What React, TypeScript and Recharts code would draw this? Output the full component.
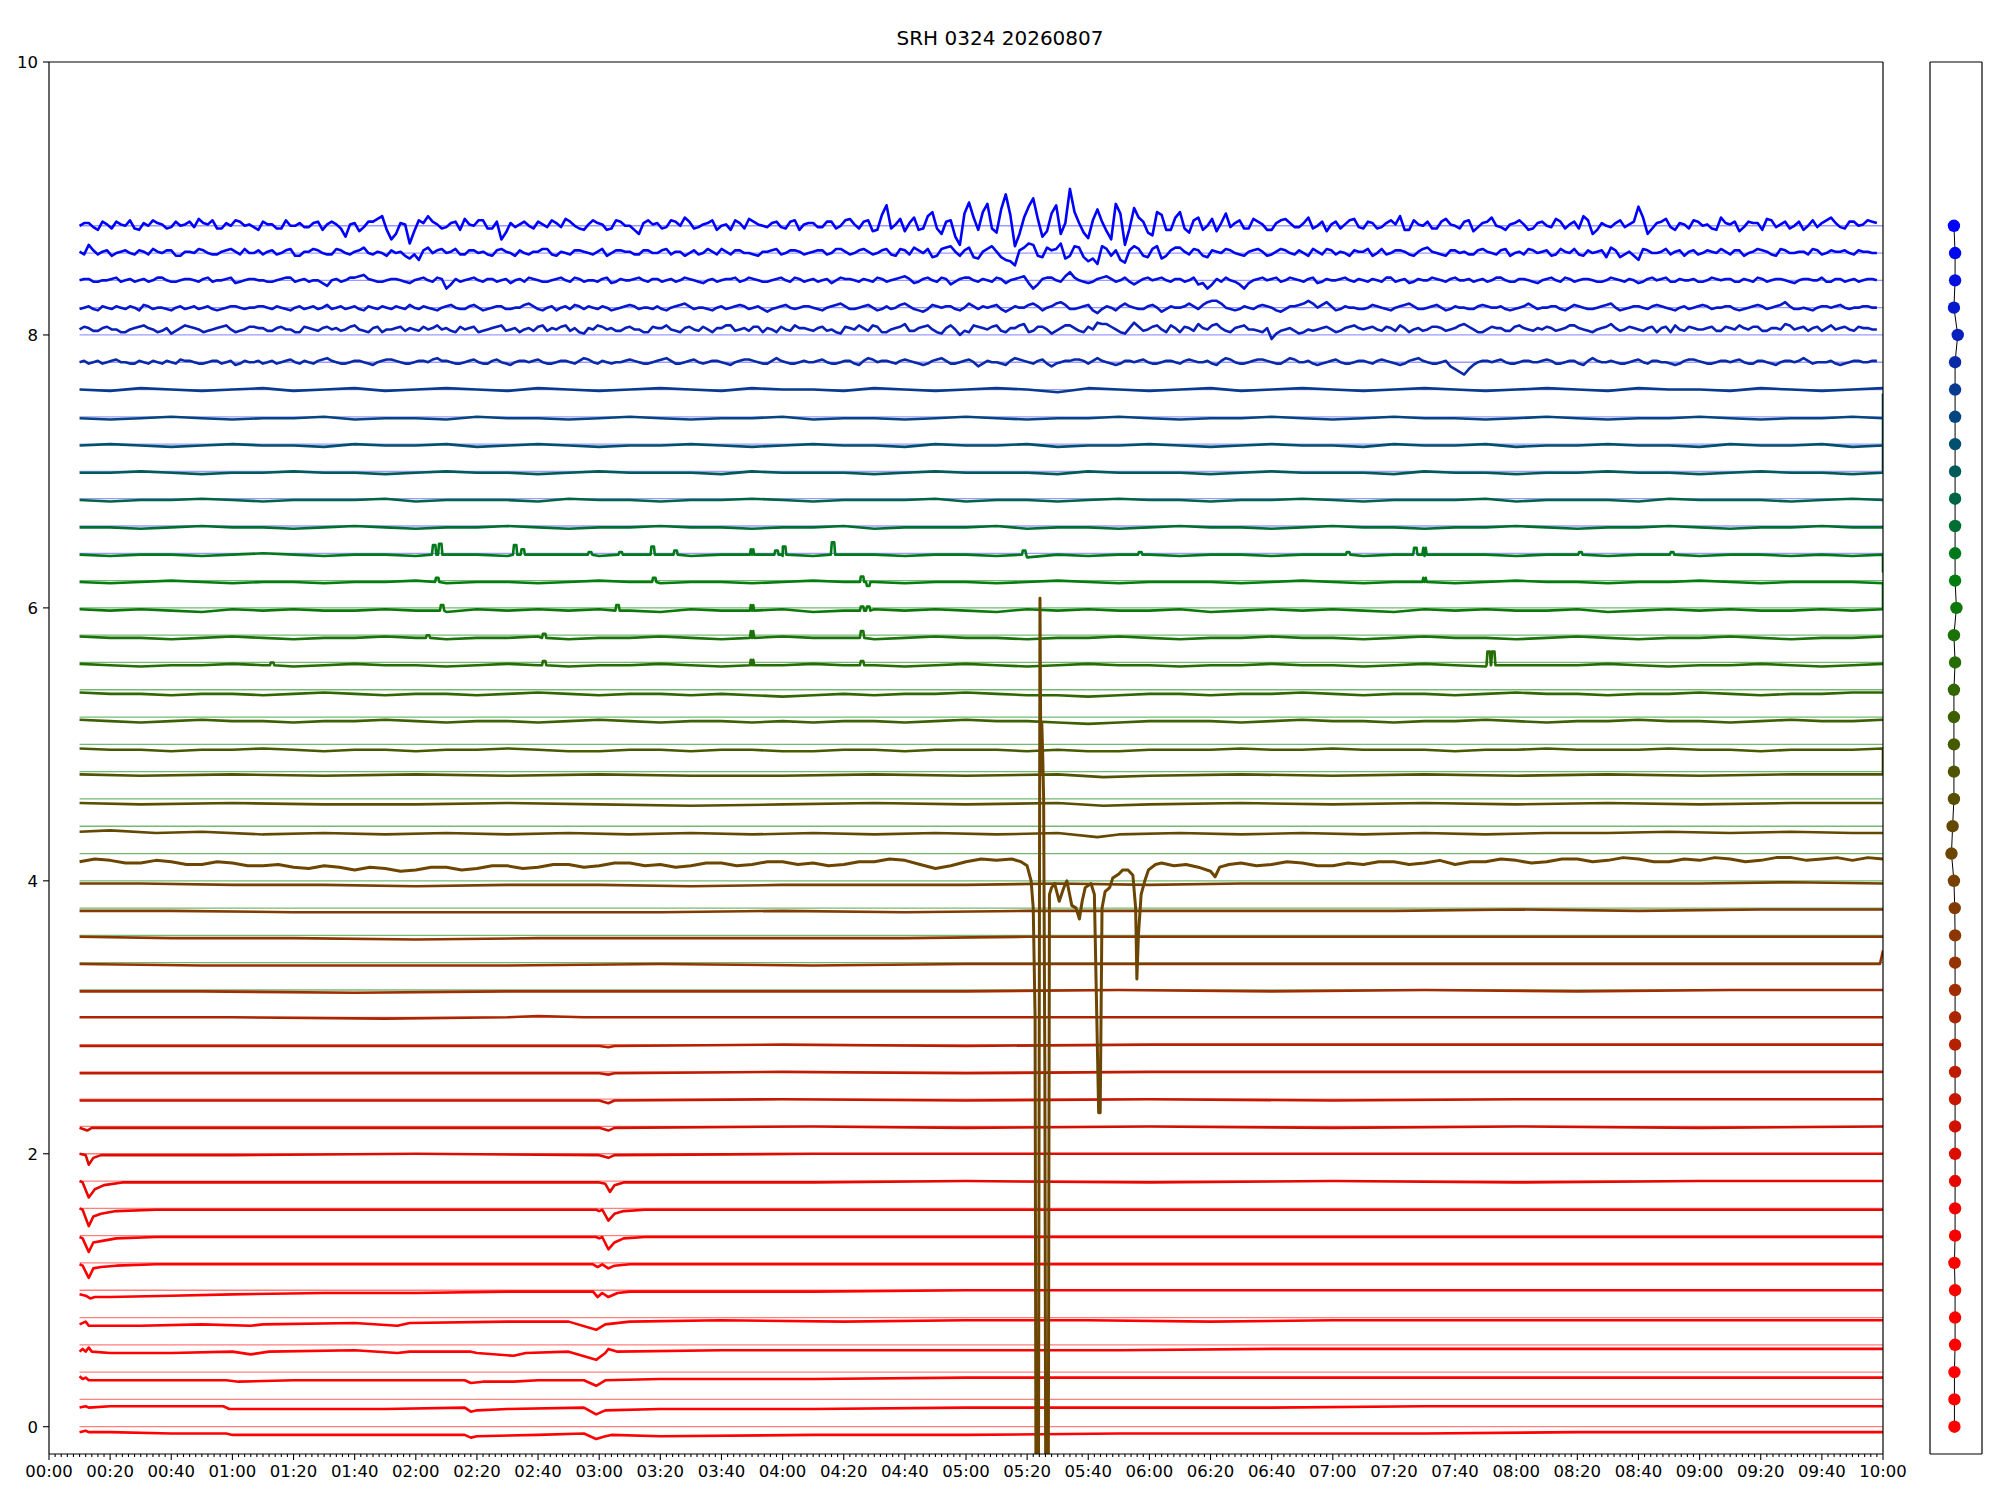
import React from 'react'
import {Line, LineChart, ReferenceLine, XAxis, YAxis} from 'recharts'

const FONT = '"DejaVu Sans", sans-serif'

// channel levels, top to bottom
const levels = [8.8, 8.6, 8.4, 8.2, 8.0, 7.8, 7.6, 7.4, 7.2, 7.0, 6.8, 6.6, 6.4, 6.2, 6.0, 5.8, 5.6, 5.4, 5.2, 5.0,
    4.8, 4.6, 4.4, 4.2, 4.0, 3.8, 3.6, 3.4, 3.2, 3.0, 2.8, 2.6, 2.4, 2.2, 2.0, 1.8, 1.6, 1.4, 1.2, 1.0, 0.8, 0.6, 0.4, 0.2, 0.0]

const colors = ['#0000ff', '#0008f0', '#0410e0', '#0818cc', '#0a20bb', '#0a2aa8', '#083a90', '#054580', '#025070', '#005a5a',
    '#006445', '#006e30', '#00781c', '#057c10', '#0c780a', '#1a7208', '#266c04', '#326600', '#3c6000', '#465a00',
    '#505400', '#5a4e00', '#634900', '#6c4600', '#784000', '#823a00', '#8c3600', '#963200', '#a02c00', '#aa2600',
    '#b42000', '#be1c00', '#c81600', '#d21000', '#dc0c00', '#e60800', '#f00400', '#f80200', '#ff0000', '#ff0000',
    '#ff0000', '#ff0000', '#ff0000', '#ff0000', '#ff0000']

// x offsets of the dots in the side panel
const dotOffsets = [-0.15, -0.08, -0.08, -0.15, 0.08, -0.08, -0.08, -0.08, -0.08, -0.08, -0.08, -0.08, -0.08, -0.08, 0.0,
    -0.15, -0.08, -0.15, -0.15, -0.15, -0.15, -0.15, -0.23, -0.3, -0.15, -0.1, -0.08, -0.08, -0.08, -0.08, -0.08, -0.08,
    -0.08, -0.08, -0.08, -0.08, -0.08, -0.08, -0.12, -0.08, -0.08, -0.08, -0.12, -0.12, -0.12]

// minutes since 00:00; fine grid every 3 min (plus a half-step grid), coarse grid every 10 min
const fineTimes = Array.from({length: 197}, (_, i) => 10 + 3 * i)
const halfTimes = Array.from({length: 196}, (_, i) => 11.5 + 3 * i)
const coarseTimes = Array.from({length: 60}, (_, i) => 10 + 10 * i)
const xTicks = Array.from({length: 301}, (_, i) => i * 2)

// deviations from channel level, in 0.01 units (fine grid)
const ch88 = [0, 2, -3, 1, 3, 0, -2, 2, 4, 1, -1, 0, 3, 5, 1, -2, 2, 4, 0, -1,
    3, 1, -2, 0, 2, -1, 3, 1, 1, -8, 2, -1, 3, 7, -10, 2, -13, 4, 7, 1,
    -1, 3, 5, 0, 4, -2, -10, 2, 1, 0, 3, -1, 2, 5, 0, -3, 4, 1, -2, 3,
    0, -6, 4, 2, -1, 3, 6, -2, 1, 4, 0, -3, 2, 5, 1, -1, 3, -2, 4, 1,
    2, -1, 3, 0, 5, -2, 4, -3, 15, 1, -4, 6, -2, 10, -6, 4, -14, 17, -3, 16,
    -5, 23, -15, 6, 20, -8, 9, -6, 27, 2, -9, 12, -4, 16, -14, 13, 3, -7, 8, -3,
    10, -5, 6, 0, -4, 9, 2, -2, 5, 1, -3, 4, 2, -1, 6, 0, -4, 3, 1, 5,
    -2, 2, -1, 4, 7, -3, 1, 3, -2, 5, 0, 3, -4, 2, 6, -1, 1, 4, -3, 2,
    0, 5, -2, 3, 7, -6, 2, -1, 4, 1, 14, -6, 2, 5, -3, 1, 4, 0, -2, 6,
    1, -4, 3, 2, 5, -1, 3, 0, -3, 4, 2, 6, -1, 3, 0, 4, 2]
const ch88b = [2, -1, 3, -2, 1, 4, -3, 0, 2, -2, 3, 1, -1, 2, 4, -2, 0, 3, 1, -3,
    1, -2, 4, 0, -1, 2, -3, 3, -2, 1, -4, 3, 5, -3, -6, 1, -4, 2, 3, -2,
    2, -3, 1, 4, -2, 3, -5, -1, 3, -2, 1, 4, -1, 3, -2, 1, 2, -3, 4, 0,
    -3, 2, 1, -2, 4, 0, 3, -1, 2, -3, 1, 4, -2, 3, 0, 2, -1, 3, -3, 2,
    -1, 3, -2, 4, 1, 3, -4, 8, -2, 5, 2, -3, 7, -2, 3, -8, 9, 6, 10, -2,
    12, 8, -6, 14, 5, -4, 15, 2, 10, -5, 4, 3, -10, 9, -2, 6, -5, 10, -3, 6,
    -2, 4, -3, 5, 2, -1, 4, -2, 3, -3, 2, 5, -1, 2, -2, 3, 1, -2, 4, -1,
    3, -2, 2, 1, -3, 4, 0, -2, 3, 1, -2, 4, -1, 3, 0, -3, 2, 1, -2, 3,
    -1, 3, 1, -2, 4, -3, 0, 2, -1, 3, 6, -2, 3, -1, 2, -2, 3, 1, -3, 2,
    3, -1, 2, -3, 4, 1, -2, 3, 0, -1, 4, 2, -2, 3, 1, 3]
const ch86 = [1, 6, -1, 2, 0, 2, -1, 1, 3, 0, 2, -2, 1, 3, 0, -1, 2, 1, 3, 0,
    -1, 2, 0, 3, -2, 1, 2, -1, 3, 0, 1, 4, -1, 0, 2, 1, -4, -5, 4, 2,
    0, 3, -1, 2, 1, -2, 3, 0, 2, -1, 1, 3, -2, 0, 2, 1, -1, 3, 0, 2,
    1, -1, 2, 0, 3, 1, -2, 2, 0, 1, 3, -1, 2, 0, -2, 1, 3, 0, 2, -1,
    1, 2, 0, 3, -1, 2, 1, 0, 3, -2, 2, 4, 0, -3, 3, 5, -2, 4, -4, 3,
    1, -5, -9, 4, 6, -3, 2, 7, -2, 4, -6, -8, 3, 2, -7, 5, -2, 3, -4, 2,
    4, -1, 2, -3, 1, 3, 0, -2, 2, 1, -1, 3, 0, 2, -2, 1, 3, -1, 0, 2,
    1, -2, 3, 0, 2, -1, 1, 4, 0, -2, 2, 1, -1, 3, 0, 2, -2, 1, 3, 0,
    2, -1, 1, 3, -2, 0, 2, 4, -3, 1, -5, 2, 0, 3, 1, -2, 2, 0, 1, 3,
    -1, 2, 0, 3, 1, -2, 2, 0, 1, 3, -1, 2, 1, 0, 2, 1, 0]
const ch86b = [-1, 2, 1, -2, 1, 0, 2, -1, 1, 2, -2, 1, 0, 2, -1, 1, 3, -1, 0, 2,
    1, -1, 2, -2, 1, 3, 0, -1, 2, -1, 2, 0, 1, -2, 0, -2, -1, 2, 0, 3,
    1, -1, 2, 0, -1, 2, 1, -2, 0, 1, 3, -1, 1, -1, 2, 0, 1, -2, 2, 1,
    -1, 2, 0, 2, -1, 1, 0, -1, 3, -1, 1, 2, 0, -1, 1, 2, -1, 2, 1, 0,
    2, -1, 3, 1, 0, 3, -1, 2, -1, 3, -1, 2, 3, -2, 4, 1, 2, -3, 1, 5,
    -3, -6, 2, 7, -2, 4, 3, -4, 5, -3, -4, 5, -2, -5, 2, 3, -3, 5, -2, 4,
    1, 3, -2, 2, 0, 2, -1, 1, 3, -2, 1, 2, -1, 0, 3, -1, 2, 1, -2, 1,
    3, 0, -1, 2, 1, -2, 3, 1, -1, 2, 0, -1, 2, 1, -1, 3, 0, -1, 2, 1,
    -2, 3, 0, -1, 2, 1, -3, 2, -1, -2, 3, 0, 1, -1, 2, 1, -1, 2, 0, 1,
    2, -2, 1, 2, -1, 3, 0, 1, -1, 2, 0, 1, 2, -1, 1, 0]
const ch84 = [0, 1, -1, 0, 2, 0, -1, 1, 0, 2, -1, 0, 1, -1, 2, 0, 1, -2, 0, 1,
    0, -1, 1, 2, 0, -1, 0, -4, 1, 0, 2, 4, 0, -1, 1, 0, -2, 1, 0, 2,
    -6, 1, 0, 2, -1, 1, 0, -2, 1, 2, 0, -1, 1, 0, 2, -1, 0, 1, -2, 1,
    0, 2, -1, 1, 0, -1, 2, 0, -2, 1, 0, 1, -1, 2, 0, -1, 1, 0, 2, -1,
    1, 0, -2, 2, 1, -1, 0, 2, -1, 1, 3, -2, 1, 0, 2, -3, 1, 2, -1, 0,
    2, -2, 1, 3, -6, 1, 2, -1, 6, 0, -2, 1, 3, -1, 2, -3, 1, 0, 2, -1,
    1, 0, -3, -6, 1, 2, -1, -6, 0, 2, 1, -1, 2, 0, 1, -2, 1, 0, 2, -1,
    0, 1, -1, 2, 0, -2, 1, 0, 1, -1, 2, 0, -1, 1, 0, 2, -1, 1, 0, -2,
    1, 0, 2, -1, 1, 0, -1, 2, 0, 1, -2, 1, 0, 2, -1, 0, 1, -1, 2, 0,
    1, -1, 0, 2, -1, 1, 0, -2, 1, 0, 2, -1, 1, 0, -1, 1, 0]
const ch84b = [1, -1, 0, 1, -1, 1, 0, -1, 2, 0, -1, 1, 0, 1, -1, 0, 2, -1, 1, 0,
    -1, 0, 2, -1, 1, 0, -2, 0, -1, 2, 3, 1, -1, 0, 1, -1, 0, 2, -1, 1,
    -3, -1, 1, 0, 1, -1, 1, 0, -1, 1, -1, 0, 2, -1, 1, 0, -1, 2, -1, 0,
    1, 0, 1, -1, 1, 0, 1, -1, 0, -1, 1, 2, 0, 1, -1, 0, 2, -1, 1, 0,
    -1, 1, 0, 1, 0, 1, -1, 1, 0, 2, 1, -1, 2, -1, 1, -1, 2, 0, 1, -1,
    1, 0, 2, -2, -3, 2, 0, 3, 2, -1, -1, 2, 1, 0, -1, -1, 2, 1, 0, 1,
    -1, 2, -2, -3, -1, 0, -3, -2, 1, 0, 2, 0, 1, -1, 2, -1, 0, 1, 0, 1,
    -1, 0, 2, -1, 1, -1, 0, 2, 0, 1, 0, 1, 0, -1, 2, 0, -1, 1, -1, 0,
    2, -1, 1, 0, 1, -1, 0, 1, -1, 0, -1, 2, 1, -1, 1, 0, -1, 0, 1, 1,
    -1, 1, -1, 1, 0, 1, -1, 0, 1, 0, -1, 1, -1, 1, 0, 1]
const ch82 = [-1, 1, -2, 0, 1, -1, 0, 2, -1, 0, -2, 1, 0, -1, 1, -2, 0, 1, -1, 0,
    1, -1, 0, -2, 1, 0, -1, 2, 0, -1, 1, -2, 0, 1, -1, 0, 2, -1, 0, -2,
    1, 0, -1, 2, -2, 0, 1, -1, 0, 3, -1, 0, -2, 1, 2, -1, 0, 1, -2, 0,
    2, -1, 0, 1, -2, 1, 3, -1, 0, -2, 1, 0, 2, -1, 1, -3, 0, 2, -1, 1,
    0, -2, 1, 3, -1, 0, 2, -2, 1, 0, 3, -1, -3, 2, 0, 1, -2, 3, -1, 0,
    2, -3, 1, 0, 3, -2, 1, 4, -1, 0, 2, -4, 1, -2, 3, 0, -1, 2, -3, 1,
    0, 3, -1, 4, 5, 0, -2, 1, -1, 2, 0, -3, 1, 2, 5, 0, 4, -2, 1, 0,
    -1, 2, 0, -2, 1, 3, -1, 0, 2, -2, 1, 0, -1, 2, 0, 1, -2, 0, 3, -1,
    0, 1, -2, 2, 0, -1, 1, 3, -2, 0, 1, -1, 2, 0, -2, 1, 0, 2, -1, 0,
    1, -2, 0, 2, -1, 1, 4, -1, 0, -2, 1, 0, 2, -1, 0, 1, 0]
const ch82b = [0, -1, 1, -1, 0, 1, -2, 1, 0, -1, 0, -1, 1, 0, -1, -1, 1, 0, 0, 1,
    0, 1, -1, 0, -1, 1, 0, -1, 1, 0, -1, 1, -1, 0, 1, -1, 0, 1, -1, 0,
    2, -1, 1, 0, -1, 1, -1, 0, 2, 1, -2, 1, 0, -1, 1, 1, -1, 0, -1, 1,
    1, 0, -1, -1, 0, 2, 1, 0, -1, 0, -1, 1, 1, 0, -1, -1, 1, 0, 0, 1,
    -1, 0, 2, 1, -1, 1, 0, -1, -1, 2, 1, -2, -1, 1, 1, -1, 0, 1, 1, 1,
    -1, -1, 0, 2, 1, 0, 3, 2, -1, 1, -2, -1, 0, 1, 1, -1, 1, 0, -1, 0,
    1, 1, 2, 5, 3, -1, -1, 0, 1, 1, -2, -1, 1, 3, 3, 2, 1, -1, 0, -1,
    0, 1, -1, 0, 2, 1, -1, 1, 0, -1, 0, -1, 1, 1, 0, -1, -1, 1, 1, 0,
    1, -1, 0, 1, -1, 0, 2, 0, -1, 1, 0, 1, 1, -1, 0, -1, 1, 1, 0, 1,
    -1, -1, 1, 1, 0, 2, 1, -1, -1, 0, 1, 1, 0, 0, 1, 0]
const ch80 = [4, 5, 3, 6, 4, 2, 5, 7, 4, 3, 1, 5, 6, 4, 3, 5, 7, 2, 4, 6,
    5, 3, 6, 4, 2, 5, 3, 6, 5, 4, 7, 3, 5, 2, 4, 6, 5, 3, 4, 7,
    5, 2, 4, 6, 3, 5, 7, 4, 2, 5, 6, 3, 4, 7, 5, 1, 4, 6, 5, 3,
    6, 4, 2, 5, 7, 3, 5, 4, 6, 2, 5, 7, 4, 3, 6, 5, 2, 4, 7, 5,
    3, 6, 4, 1, 5, 7, 3, 6, 2, 5, 8, 3, 6, 4, 1, 7, 0, 2, 6, 4,
    7, 2, 5, 8, 3, 6, 1, 5, 7, 3, 6, 9, 8, 4, 1, 9, 3, 6, 4, 7,
    2, 5, 8, 4, 8, 3, 5, 7, 4, 2, -3, 3, 5, 1, 4, 4, 6, 2, 5, 7,
    4, 6, 3, 5, 7, 2, 5, 4, 6, 3, 5, 8, 4, 2, 6, 5, 3, 7, 4, 5,
    6, 3, 5, 7, 4, 2, 5, 8, 3, 6, 4, 5, 2, 6, 7, 3, 5, 4, 6, 3,
    5, 7, 4, 6, 3, 5, 8, 4, 6, 5, 3, 7, 5, 4, 6, 5, 4]
const ch80b = [6, 3, 5, 4, 2, 4, 6, 5, 2, 5, 3, 7, 5, 2, 4, 6, 4, 3, 6, 5,
    3, 5, 4, 2, 6, 4, 5, 4, 3, 6, 4, 2, 6, 4, 5, 3, 4, 6, 5, 4,
    3, 6, 5, 2, 4, 6, 3, 5, 4, 3, 7, 5, 6, 3, 2, 5, 7, 4, 3, 5,
    4, 2, 6, 5, 4, 2, 6, 3, 4, 5, 7, 3, 5, 6, 2, 4, 6, 3, 5, 4,
    5, 3, 2, 6, 4, 5, 7, 2, 4, 6, 3, 5, 7, 2, 5, 4, 3, 7, 5, 6,
    3, 5, 7, 2, 6, 4, 3, 7, 5, 2, 4, 8, 6, 2, 5, 6, 4, 7, 2, 5,
    6, 3, 5, 7, 5, 2, 6, 4, 3, 5, 1, 4, 3, 2, 3, 5, 4, 3, 6, 5,
    5, 4, 6, 3, 5, 4, 3, 6, 5, 4, 7, 6, 2, 4, 5, 3, 6, 5, 3, 4,
    5, 4, 7, 5, 3, 4, 6, 5, 4, 5, 3, 6, 5, 2, 4, 6, 4, 5, 3, 6,
    4, 5, 6, 3, 5, 4, 7, 5, 3, 6, 5, 4, 6, 3, 5, 4]
const ch78 = [0, -1, 1, 0, 2, 0, -1, 0, 1, -1, 0, 2, 1, -1, 0, 1, 0, -2, 1, 0,
    -1, 1, 0, 2, -1, 0, 1, 3, 0, -1, 1, 0, -2, 1, 2, 0, -1, 1, 0, 3,
    1, -1, 0, 2, -1, 1, 0, -2, 1, 0, 2, -1, 0, 1, -1, 3, 0, 1, -1, 0,
    2, 0, -1, 1, 3, -1, 0, 2, -1, 1, 0, -2, 1, 2, 0, -1, 3, 0, -1, 1,
    0, 2, -1, 0, 1, -2, 3, 0, 1, -1, 2, 0, -2, 1, 3, -1, 0, 2, -3, 1,
    0, -2, 3, 1, -1, 2, -3, 0, 1, 2, -1, 3, 0, -2, 1, 0, 2, -1, 0, 1,
    -1, 2, 0, 1, -2, 3, 0, -1, 1, 2, 0, -1, 3, 0, 1, -2, 0, 2, -1, 0,
    1, -1, 2, 0, -2, 1, 3, 0, -1, 1, -5, -9, -2, 1, 0, 2, -1, 0, 1, 0,
    2, -1, 0, 1, -2, 3, 0, 1, -1, 0, 2, -1, 1, 0, -2, 1, 2, 0, -1, 1,
    0, 2, -1, 1, 0, -2, 1, 0, 3, -1, 0, 1, -2, 0, 1, 0, 1]
const ch78b = [1, 0, -1, 1, 0, -1, 1, -1, 0, 1, -1, 1, 0, -1, 1, -1, 1, -1, 0, 1,
    0, -1, 1, 0, 1, -1, 2, 1, -1, 0, 1, -1, 0, 2, 1, -1, 0, 1, 2, 1,
    0, -1, 1, 0, -1, 2, -1, 0, 1, 1, 0, -1, 1, 0, 1, 2, -1, 0, 0, 1,
    1, -1, 0, 2, 1, -1, 1, 0, 0, 1, -1, 0, 2, 1, -1, 1, 1, -1, 0, 0,
    1, 0, -1, 1, -1, 1, 2, 1, 0, 1, 1, -1, -1, 2, 1, -1, 1, 0, -1, 0,
    -1, 1, 2, 0, 1, -1, -1, 1, 2, 1, 1, 1, -1, -1, 1, 1, 0, -1, 1, 0,
    1, 1, 0, -1, 1, 2, -1, 0, 2, 1, -1, 1, 2, 0, -1, -1, 1, 0, -1, 1,
    0, 1, 1, -1, -1, 2, 1, -1, 0, -3, -7, -5, 0, 1, 1, 0, -1, 1, 0, 1,
    1, -1, 1, -1, 1, 1, 0, 0, -1, 1, 0, 1, 0, -1, -1, 2, 1, -1, 0, 1,
    1, 0, -1, 1, -1, 0, 1, 1, 1, 0, 0, -1, -1, 1, 0, 1]

// deviations on the coarse grid (0.01 units)
const ch76 = [0, -1, 1, 0, -1, 0, 1, -1, 0, 1, -1, 0, 1, 0, -1, 1, 0, -1, 0, 1, 0, -1, 1, 0, 0, -1, 1, 0, -1, 0,
    1, 0, -2, 1, 0, -1, 0, 1, -1, 0, 1, 0, -1, 0, 1, 0, -1, 0, 1, 0, -1, 1, 0, 0, -1, 1, 0, -1, 0, 1]
const ch74 = [-1, -2, -1, 0, -1, -2, -1, -1, 0, -2, -1, -1, -2, 0, -1, -1, -2, -1, 0, -1, -2, -1, -1, 0, -2, -1, -1, -2, -1, 0,
    -1, -2, -1, -1, 0, -1, -2, -1, -1, 0, -1, -2, -1, 0, -1, -1, -2, -1, 0, -1, -2, -1, -1, 0, -1, -2, -1, -1, 0, -1]
const ch72 = [-1, 0, -1, -2, -1, 0, -1, -1, -2, 0, -1, -1, 0, -2, -1, 0, -1, -2, -1, -1, 0, -1, -2, -1, 0, -1, -1, -2, 0, -1,
    -1, 0, -2, -1, -1, 0, -1, -2, -1, 0, -1, -1, -2, 0, -1, -1, 0, -2, -1, -1, 0, -1, -1, -2, 0, -1, -1, 0, -2, -1]
const ch70 = [-1, -1, 0, -1, -2, -1, -1, 0, -1, -1, -2, -1, 0, -1, -1, -2, -1, 0, -1, -1, -1, -2, 0, -1, -1, -1, -2, -1, 0, -1,
    -1, -1, -2, 0, -1, -1, -1, -2, -1, 0, -1, -1, -1, -2, 0, -1, -1, -2, -1, -1, 0, -1, -1, -2, -1, 0, -1, -1, -2, -1]
const ch68 = [-1, -2, -1, -1, 0, -1, -2, -1, -1, -1, 0, -2, -1, -1, -1, -2, 0, -1, -1, -2, -1, -1, 0, -1, -2, -1, -1, -1, 0, -2,
    -1, -1, -2, -1, 0, -1, -1, -2, -1, -1, 0, -1, -2, -1, -1, -1, 0, -2, -1, -1, -1, -2, 0, -1, -1, -1, -2, -1, 0, -1]
const ch66 = [-1, -1, -2, -1, 0, -1, -1, -2, -1, 0, -1, -2, -1, -1, 0, -1, -2, -1, -1, 0, -1, -1, -2, -1, -1, 0, -2, -1, -1, -1,
    0, -2, -1, -1, -2, -1, 0, -1, -1, -2, -1, 0, -1, -1, -2, -1, -1, 0, -1, -2, -1, -1, 0, -1, -2, -1, -1, 0, -1, -1]
const ch64 = [-1, -2, -1, -1, -2, -1, 0, -1, -2, -1, -1, -2, -1, -1, -2, -1, -1, -2, -1, -1, -2, -1, -1, -2, -2, -1, -1, -2, -1, -1,
    -2, -3, -1, -2, -1, -1, -2, -1, -1, -2, -1, -1, -2, -1, -2, -1, -1, -2, -1, -1, -2, -1, -1, -2, -1, -1, -2, -1, -2, -1]
const ch62 = [-1, -2, -1, 0, -1, -2, -1, -1, -2, -1, -1, 0, -2, -1, -1, -2, -1, 0, -1, -2, -1, -1, -2, -1, 0, -1, -1, -2, -1, -1,
    -2, -1, 0, -1, -2, -1, -1, -1, -2, -1, 0, -1, -2, -1, -1, -2, -1, 0, -1, -1, -2, -1, -1, 0, -1, -2, -1, -1, -1, -2]
const ch60 = [-1, -2, -1, -2, -3, -1, -2, -1, -2, -2, -1, -2, -3, -1, -2, -1, -2, -1, -2, -3, -1, -2, -2, -1, -3, -2, -1, -2, -1, -2,
    -3, -1, -2, -1, -2, -2, -1, -3, -2, -1, -2, -1, -2, -3, -1, -2, -1, -2, -2, -1, -3, -2, -1, -2, -1, -2, -2, -1, -2, -1]
const ch58 = [-1, -2, -2, -3, -2, -1, -2, -3, -2, -2, -1, -2, -3, -2, -2, -1, -3, -2, -2, -1, -2, -3, -2, -1, -2, -2, -3, -2, -1, -2,
    -2, -3, -2, -2, -1, -2, -3, -2, -2, -1, -2, -2, -3, -2, -1, -2, -2, -3, -2, -1, -2, -3, -2, -2, -1, -2, -3, -2, -2, -1]
const ch56 = [-1, -2, -3, -2, -2, -1, -2, -3, -2, -1, -2, -2, -3, -2, -1, -2, -3, -2, -2, -1, -2, -3, -2, -2, -1, -2, -2, -3, -2, -1,
    -2, -3, -2, -1, -2, -2, -3, -2, -2, -1, -2, -2, -3, -2, -1, -2, -3, -2, -2, -2, -1, -2, -3, -2, -2, -1, -2, -3, -2, -1]
const ch54 = [-2, -3, -3, -4, -3, -3, -4, -3, -2, -3, -4, -3, -3, -4, -3, -2, -3, -4, -3, -3, -4, -3, -4, -5, -4, -3, -4, -3, -3, -2,
    -3, -4, -4, -5, -4, -3, -3, -4, -3, -3, -2, -3, -4, -3, -3, -4, -3, -2, -3, -3, -4, -3, -3, -2, -3, -4, -3, -3, -2, -2]
const ch52 = [-2, -3, -4, -3, -2, -3, -3, -4, -3, -3, -2, -3, -4, -3, -3, -4, -3, -2, -3, -4, -3, -3, -4, -3, -4, -3, -3, -4, -3, -2,
    -3, -3, -4, -5, -4, -3, -3, -3, -4, -3, -2, -3, -3, -4, -3, -3, -2, -3, -4, -3, -3, -2, -3, -3, -4, -3, -2, -3, -3, -2]
const ch50 = [-3, -4, -4, -5, -4, -4, -3, -4, -5, -4, -4, -5, -4, -4, -3, -4, -5, -5, -4, -4, -5, -4, -4, -5, -5, -4, -4, -5, -4, -4,
    -4, -5, -4, -5, -5, -4, -4, -4, -3, -4, -4, -3, -4, -4, -4, -5, -4, -4, -3, -4, -4, -4, -3, -4, -4, -5, -4, -4, -4, -3]

// narrow blips on the coarse channels: [minute, height in 0.01 units]
const blips64 = [[126, 7], [128, 8], [152.5, 7], [155, 4], [177, 2], [187, 2], [197.5, 6], [205, 3], [230, 4], [238, 3],
    [240.5, 6], [256.5, 9], [319, 3], [357, 2], [425, 2], [447, 5], [450, 5], [501, 2], [531, 2]]
const blips62 = [[127, 3], [198, 3], [266, 4], [268, -3], [450, 3]]
const blips60 = [[128.6, 4], [186, 4], [230, 4], [266, 3], [268, 3]]
const blips58 = [[124, 2], [162, 3], [230, 5], [266, 5]]
const blips56 = [[73, 2], [162, 3], [230, 4], [266, 3], [471, 10], [472.5, 10]]

// jumps at the right end of some channels: [minute, deviation]
const end70 = [[600, 57]]
const end64 = [[600, -14]]
const end62 = [[600, -20]]
const end50 = [[600, -22]]

// sparse channels: [minute, deviation in 0.01 units]
const ch48 = [[10, -2], [30, -3], [60, -2], [90, -3], [120, -2], [150, -3], [180, -2], [210, -3], [240, -3], [270, -2], [300, -3],
    [330, -2], [345, -4], [360, -3], [390, -2], [420, -3], [450, -2], [480, -3], [510, -2], [540, -3], [570, -2], [600, -2]]
const ch46 = [[10, -3], [30, -4], [60, -3], [90, -4], [120, -4], [150, -3], [180, -4], [210, -5], [240, -4], [270, -3], [300, -4],
    [330, -3], [345, -5], [360, -4], [390, -3], [420, -4], [450, -3], [480, -4], [510, -3], [540, -4], [570, -3], [600, -3]]
const ch44 = [[10, -4], [20, -3], [35, -5], [50, -4], [70, -6], [90, -5], [110, -6], [130, -5], [150, -6], [170, -5], [190, -6],
    [210, -5], [230, -6], [250, -5], [270, -6], [290, -5], [310, -6], [330, -5], [343, -8], [350, -6], [370, -5], [390, -6],
    [410, -5], [430, -6], [450, -5], [470, -6], [490, -5], [510, -5], [530, -4], [550, -5], [570, -4], [590, -5], [600, -5]]
const ch42 = [[10, -6], [15, -4], [20, -5], [25, -7], [30, -7], [35, -5], [40, -6], [45, -8], [50, -8], [55, -6], [60, -7], [65, -9],
    [70, -9], [75, -8], [80, -10], [85, -11], [90, -9], [95, -10], [100, -12], [105, -10], [110, -11], [115, -13], [120, -12],
    [125, -10], [130, -10], [135, -12], [140, -11], [145, -9], [150, -9], [155, -11], [160, -10], [165, -8], [170, -8],
    [175, -10], [180, -9], [185, -7], [190, -7], [195, -9], [200, -8], [205, -10], [210, -9], [215, -7], [220, -7], [225, -9],
    [230, -8], [235, -6], [240, -6], [245, -8], [250, -7], [255, -9], [260, -8], [265, -6], [270, -6], [275, -4], [280, -5],
    [285, -8], [290, -11], [295, -9], [300, -6], [305, -4], [310, -5], [315, -4], [318, -6], [320, -9], [321.3, -20],
    [322, -40], [322.6, -120], [323, -600], [323.6, -600], [324.2, 187], [324.5, 60], [324.8, 95], [325.1, 72], [325.4, 40],
    [325.8, -160], [326.2, -600], [326.8, -600], [327.3, -30], [328, -25], [329, -22], [330.5, -35], [332, -25], [333, -20],
    [334.6, -38], [336, -40], [337.1, -48], [338, -35], [339, -25], [340.9, -22], [342, -30], [343.4, -190], [343.9, -190],
    [344.5, -40], [345.5, -28], [347, -25], [348, -18], [350, -15], [351.3, -12], [353, -12], [354.6, -16], [355.5, -40],
    [355.9, -92], [356.4, -60], [357.3, -30], [358.5, -20], [359.7, -12], [362, -8], [364, -7], [368, -9], [372, -8],
    [376, -10], [380, -13], [381.5, -17], [383, -10], [386, -8], [390, -7], [395, -9], [400, -8], [405, -6], [410, -7],
    [415, -9], [420, -9], [425, -7], [430, -8], [435, -6], [440, -6], [445, -8], [450, -7], [455, -5], [460, -8], [465, -6],
    [470, -6], [475, -4], [480, -5], [485, -7], [490, -6], [495, -4], [500, -4], [505, -6], [510, -5], [515, -3], [520, -4],
    [525, -6], [530, -6], [535, -4], [540, -5], [545, -3], [550, -4], [555, -6], [560, -5], [565, -3], [570, -3], [575, -5],
    [580, -4], [585, -3], [590, -5], [595, -3], [600, -4]]
const ch40 = [[10, -2], [30, -2], [60, -3], [90, -3], [120, -4], [150, -3], [180, -3], [210, -4], [240, -3], [270, -3], [300, -3],
    [330, -2], [360, -3], [390, -2], [420, -2], [450, -2], [480, -2], [510, -2], [540, -2], [570, -1], [600, -2]]
const ch38 = [[10, -2], [40, -2], [80, -3], [120, -3], [160, -3], [200, -3], [240, -2], [280, -3], [320, -2], [360, -2], [400, -2],
    [440, -2], [480, -1], [520, -2], [560, -1], [600, -1]]
const ch36 = [[10, -1], [40, -2], [80, -2], [120, -3], [160, -2], [200, -2], [240, -2], [280, -2], [320, -1], [360, -1], [400, -1],
    [440, -1], [480, -1], [520, -1], [560, -1], [600, -1]]
const ch34 = [[10, -1], [50, -2], [100, -2], [150, -2], [200, -1], [250, -2], [300, -1], [350, -1], [400, -1], [450, -1], [500, -1],
    [550, -1], [599, -1], [600, 9]]
const ch32 = [[10, -1], [50, -1], [100, -2], [150, -1], [200, -1], [250, -1], [300, -1], [350, 0], [400, -1], [450, 0], [500, -1],
    [550, 0], [600, 0]]
const ch30 = [[10, 0], [60, 0], [110, -1], [150, 0], [160, 1], [175, 0], [220, 0], [280, 0], [340, 0], [400, 0], [460, 0], [520, 0],
    [600, 0]]
const ch28 = [[10, -1], [60, -1], [120, -1], [180, -1], [183, -2], [185, -1], [240, 0], [300, -1], [360, 0], [420, 0], [480, 0],
    [540, 0], [600, 0]]
const ch26 = [[10, -1], [60, -1], [120, -1], [180, -1], [183, -2], [185, -1], [240, 0], [300, -1], [360, 0], [420, 0], [480, 0],
    [540, 0], [600, 0]]
const ch24 = [[10, -1], [60, -1], [120, -1], [180, -1], [183, -3], [185, -1], [240, 0], [300, -1], [360, 0], [420, -1], [480, 0],
    [540, 0], [600, 0]]
const ch22 = [[10, -1], [12.5, -3], [14, -1], [60, -1], [120, -1], [180, -1], [183, -3], [185, -1], [250, 0], [300, -1], [360, 0],
    [420, -1], [480, 0], [540, -1], [600, 0]]
const ch20 = [[10, 0], [12, -1], [13, -8], [14.5, -3], [17, -1], [60, -1], [120, 0], [180, -1], [183, -3], [185, -1], [250, 0],
    [300, 0], [360, 0], [420, 0], [480, 0], [540, 0], [600, 0]]
const ch18 = [[10, 0], [11, -1], [13, -12], [15, -6], [18, -3], [24, -1], [60, -1], [120, -1], [180, -1], [182, -2], [183.5, -8],
    [185, -3], [188, -1], [250, -1], [300, 0], [360, -1], [420, 0], [480, -1], [540, 0], [600, 0]]
const ch16 = [[10, 0], [11, -1], [13, -13], [14.5, -6], [17, -4], [22, -2], [35, -1], [120, -1], [179, -1], [180, -2], [181, -1],
    [183, -9], [185, -4], [188, -2], [195, -1], [300, -1], [400, -1], [500, -1], [600, -1]]
const ch14 = [[10, -1], [11, -2], [13, -12], [14.5, -5], [17, -4], [22, -2], [35, -1], [120, -1], [179, -1], [180, -2], [181, -1],
    [183, -10], [185, -5], [188, -2], [195, -1], [300, -1], [400, -1], [500, -1], [600, -1]]
const ch12 = [[10, -1], [11, -2], [13, -11], [14.5, -4], [17, -3], [22, -2], [35, -1], [120, -1], [178, -1], [179.5, -3], [181, -1],
    [183, -4], [185, -2], [190, -1], [300, -1], [400, -1], [500, -1], [600, -1]]
const ch10 = [[10, -3], [12, -4], [13.5, -6], [15, -5], [20, -5], [40, -4], [60, -3], [90, -2], [120, -2], [150, -1], [178, -1],
    [179.5, -5], [181, -2], [183, -5], [186, -2], [190, -1], [250, -1], [300, 0], [400, 0], [500, 0], [600, 0]]
const ch08 = [[10, -5], [12, -3], [13, -6], [18, -6], [30, -6], [50, -5], [66, -6], [70, -5], [100, -4], [114, -6], [118, -4],
    [150, -3], [170, -3], [179, -9], [182, -5], [190, -3], [220, -2], [260, -3], [300, -2], [340, -2], [380, -3], [420, -2],
    [460, -2], [500, -2], [540, -2], [600, -2]]
const ch06 = [[10, -5], [11, -3], [12, -5], [13, -2], [14, -5], [20, -6], [40, -6], [60, -5], [66, -7], [72, -5], [100, -4],
    [114, -6], [118, -5], [138, -5], [140, -6], [152, -8], [156, -6], [170, -5], [179, -11], [182, -6], [183, -3], [186, -5],
    [220, -4], [260, -4], [300, -4], [350, -4], [400, -3], [450, -3], [500, -3], [550, -3], [600, -3]]
const ch04 = [[10, -3], [11, -5], [12, -4], [13, -6], [20, -6], [40, -6], [58, -6], [62, -7], [80, -6], [110, -6], [136, -6],
    [138, -8], [142, -7], [152, -7], [160, -6], [175, -6], [179, -10], [182, -6], [200, -5], [250, -5], [300, -4], [350, -4],
    [400, -4], [450, -4], [500, -4], [550, -4], [600, -4]]
const ch02 = [[10, -6], [12, -5], [13, -6], [20, -5], [40, -5], [57, -5], [59, -7], [80, -7], [110, -7], [136, -6], [138, -9],
    [140, -8], [150, -7], [175, -6], [179, -11], [182, -8], [200, -7], [250, -7], [300, -6], [350, -6], [400, -6], [450, -5],
    [500, -5], [550, -5], [600, -5]]
const ch00 = [[10, -4], [12, -3], [13, -4], [20, -4], [40, -5], [58, -5], [60, -6], [100, -6], [136, -6], [138, -8], [140, -7],
    [160, -6], [175, -5], [179, -9], [182, -7], [184, -6], [200, -7], [250, -6], [300, -6], [350, -5], [400, -5], [450, -5],
    [500, -4], [550, -4], [600, -4]]

type Pt = {t: number, v: number}

const onGrid = (times: number[], devs: number[]) => devs.map((d, i) => [times[i], d])

const fine = (a: number[], b: number[]) => [...onGrid(fineTimes, a), ...onGrid(halfTimes, b)]

const blipPairs = (list: number[][], base: number) =>
    list.flatMap(([t, h]) => [[t - 0.7, base], [t - 0.4, base + h], [t + 0.4, base + h], [t + 0.7, base]])

const toPoints = (level: number, pairs: number[][]): Pt[] =>
    [...pairs].sort((a, b) => a[0] - b[0]).map(([t, d]) => ({t, v: level + d / 100}))

const channelPairs: number[][][] = [
    fine(ch88, ch88b), fine(ch86, ch86b), fine(ch84, ch84b),
    fine(ch82, ch82b), fine(ch80, ch80b), fine(ch78, ch78b),
    onGrid(coarseTimes, ch76), onGrid(coarseTimes, ch74), onGrid(coarseTimes, ch72),
    [...onGrid(coarseTimes, ch70), ...end70], onGrid(coarseTimes, ch68), onGrid(coarseTimes, ch66),
    [...onGrid(coarseTimes, ch64), ...blipPairs(blips64, -1), ...end64],
    [...onGrid(coarseTimes, ch62), ...blipPairs(blips62, -1), ...end62],
    [...onGrid(coarseTimes, ch60), ...blipPairs(blips60, -2)],
    [...onGrid(coarseTimes, ch58), ...blipPairs(blips58, -2)],
    [...onGrid(coarseTimes, ch56), ...blipPairs(blips56, -2)],
    onGrid(coarseTimes, ch54), onGrid(coarseTimes, ch52), [...onGrid(coarseTimes, ch50), ...end50],
    ch48, ch46, ch44, ch42, ch40, ch38, ch36, ch34, ch32, ch30, ch28, ch26, ch24, ch22, ch20, ch18, ch16, ch14, ch12,
    ch10, ch08, ch06, ch04, ch02, ch00,
]

const traces = levels.map((level, i) => ({
    level,
    color: colors[i],
    refColor: i <= 12 ? '#0000ff' : i <= 28 ? '#008000' : '#ff0000',
    refOpacity: i <= 12 ? 0.4 : i <= 28 ? 0.55 : 0.5,
    points: toPoints(level, channelPairs[i]),
}))

const dotData = levels.map((level, i) => ({x: dotOffsets[i], y: level, color: colors[i]}))

const pad = (n: number) => (n < 10 ? '0' : '') + n
const timeLabel = (t: number) => `${pad(Math.floor(t / 60))}:${pad(t % 60)}`

const XTick = ({x, y, payload}: any) => {
    const t = payload.value
    const major = t % 20 === 0
    return (
        <g>
            <line x1={x} x2={x} y1={y} y2={y + (major ? 6 : 3)} stroke='#000' strokeWidth={1.1} />
            {major && (
                <text x={x} y={y + 11} dy='0.71em' textAnchor='middle' fontSize={16.5} fontFamily={FONT} fill='#000'>
                    {timeLabel(t)}
                </text>
            )}
        </g>
    )
}

const PanelDot = (props: any) => {
    const {cx, cy, payload, index} = props
    return <circle key={`dot-${index}`} cx={cx} cy={cy} r={6.2} fill={payload.color} />
}

const App = () => {
    // draw the 4.2 channel last so its excursion sits on top
    const order = traces.filter(tr => tr.level !== 4.2).concat(traces.filter(tr => tr.level === 4.2))
    return (
        <div style={{position: 'absolute', left: 0, top: 0, width: 2000, height: 1500, background: '#fff', fontFamily: FONT}}>
            <div style={{position: 'absolute', left: 0, top: 26, width: 2000, textAlign: 'center', fontSize: 20, lineHeight: '24px', color: '#000'}}>
                SRH 0324 20260807
            </div>
            <div style={{position: 'absolute', left: 0, top: 0}}>
                <LineChart width={1950} height={1500} margin={{top: 62, right: 67, bottom: 16, left: 0}}>
                    <XAxis type='number' dataKey='t' domain={[0, 600]} ticks={xTicks} interval={0} allowDataOverflow
                        height={30} tickSize={0} tickMargin={0} tickLine={false} tick={<XTick />}
                        axisLine={{stroke: '#000', strokeWidth: 1.2}} />
                    <YAxis type='number' domain={[-0.2, 10]} ticks={[0, 2, 4, 6, 8, 10]} allowDataOverflow width={49}
                        tickSize={6} tickMargin={5} stroke='#000'
                        tick={{fill: '#000', fontSize: 16.5, fontFamily: FONT}}
                        axisLine={{stroke: '#000', strokeWidth: 1.2}} tickLine={{stroke: '#000', strokeWidth: 1.1}} />
                    {traces.map(tr => (
                        <Line key={`ref-${tr.level}`} data={[{t: 10, v: tr.level}, {t: 600, v: tr.level}]} dataKey='v'
                            type='linear' stroke={tr.refColor} strokeOpacity={tr.refOpacity} strokeWidth={1.3}
                            dot={false} activeDot={false} isAnimationActive={false} />
                    ))}
                    {order.map(tr => (
                        <Line key={`trace-${tr.level}`} data={tr.points} dataKey='v' type='linear' stroke={tr.color}
                            strokeWidth={tr.level === 4.2 ? 3 : 2.6} strokeLinejoin='round' dot={false} activeDot={false}
                            isAnimationActive={false} />
                    ))}
                    <ReferenceLine y={10} stroke='#000' strokeWidth={1.2} />
                    <ReferenceLine x={600} stroke='#000' strokeWidth={1.2} />
                </LineChart>
            </div>
            <div style={{position: 'absolute', left: 1900, top: 0}}>
                <LineChart width={100} height={1500} data={dotData} margin={{top: 62, right: 18, bottom: 16, left: 0}}>
                    <XAxis type='number' dataKey='x' domain={[-1.6, 1.55]} ticks={[-1, 0, 1]} allowDataOverflow height={30}
                        tick={false} tickSize={5} stroke='#000' axisLine={{stroke: '#000', strokeWidth: 1.2}} />
                    <YAxis type='number' domain={[-0.2, 10]} ticks={[0, 2, 4, 6, 8, 10]} allowDataOverflow width={30}
                        tick={false} tickSize={5} stroke='#000' axisLine={{stroke: '#000', strokeWidth: 1.2}} />
                    <Line dataKey='y' type='linear' stroke='#000' strokeWidth={1} dot={<PanelDot />} activeDot={false}
                        isAnimationActive={false} />
                    <ReferenceLine y={10} stroke='#000' strokeWidth={1.2} />
                    <ReferenceLine x={1.55} stroke='#000' strokeWidth={1.2} />
                </LineChart>
            </div>
        </div>
    )
}

export default App
